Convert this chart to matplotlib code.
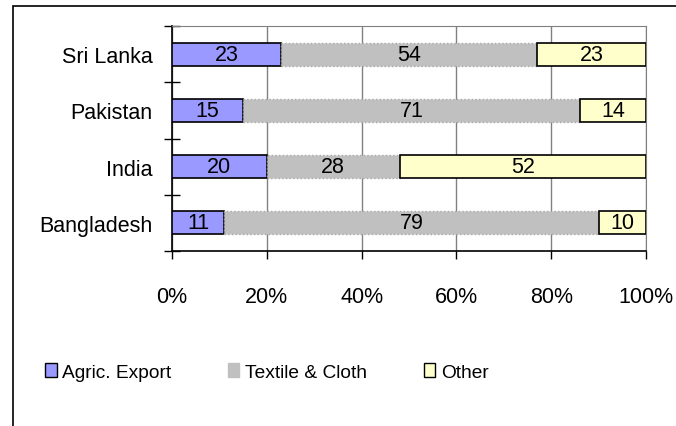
import numpy as np
import matplotlib.pyplot as plt
from matplotlib.patches import Rectangle

plt.rcParams['font.family'] = ['Liberation Sans', 'DejaVu Sans']

# data
countries = ["Bangladesh", "India", "Pakistan", "Sri Lanka"]
agric = [11, 20, 15, 23]
textile = [79, 28, 71, 54]
other = [10, 52, 14, 23]
xticks = [0, 20, 40, 60, 80, 100]
xtick_labels = ["0%", "20%", "40%", "60%", "80%", "100%"]

W, H = 676, 427
fig = plt.figure(figsize=(W / 100, H / 100), dpi=100)

# outer chart border (cropped on right/bottom)
fig.patches.append(Rectangle((13 / W, -0.1), 1.2, (H - 7) / H + 0.1,
                             transform=fig.transFigure, fill=False,
                             edgecolor='black', linewidth=1.2))

ax = fig.add_axes([172 / W, 1 - 252 / H, (646 - 172) / W, (252 - 27) / H])

y = np.arange(len(countries))
h = 0.41
ax.barh(y, agric, height=h, color='#9999FF', edgecolor='black', linewidth=1.2, zorder=3)
ax.barh(y, textile, left=agric, height=h, color='#C0C0C0', edgecolor='#A8A8A8',
        linewidth=1.0, linestyle=':', zorder=3)
left2 = np.array(agric) + np.array(textile)
ax.barh(y, other, left=left2, height=h, color='#FFFFCC', edgecolor='black', linewidth=1.2, zorder=3)

fs = 15.5
for i in range(len(countries)):
    ax.text(agric[i] / 2, y[i], str(agric[i]), ha='center', va='center', fontsize=fs, zorder=4)
    ax.text(agric[i] + textile[i] / 2, y[i], str(textile[i]), ha='center', va='center', fontsize=fs, zorder=4)
    ax.text(left2[i] + other[i] / 2, y[i], str(other[i]), ha='center', va='center', fontsize=fs, zorder=4)

ax.set_xlim(0, 100)
ax.set_ylim(-0.5, len(countries) - 0.5)
ax.set_xticks(xticks)
ax.set_xticklabels(xtick_labels, fontsize=fs)
ax.set_yticks(y)
ax.set_yticklabels(countries, fontsize=fs)
ax.set_yticks(np.arange(-0.5, len(countries), 1), minor=True)
ax.tick_params(axis='y', which='major', length=0, pad=14)
ax.tick_params(axis='y', which='minor', direction='inout', length=11.5, width=1)
ax.tick_params(axis='x', direction='out', length=5.5, width=1, pad=20)
ax.xaxis.grid(True, color='#808080', linewidth=1, zorder=0)
ax.set_axisbelow(True)

ax.spines['top'].set_color('#808080')
ax.spines['right'].set_color('#808080')
ax.spines['left'].set_linewidth(1.2)
ax.spines['bottom'].set_linewidth(1.2)

# legend
handles = [Rectangle((0, 0), 1, 1, facecolor='#9999FF', edgecolor='black', linewidth=1),
           Rectangle((0, 0), 1, 1, facecolor='#C0C0C0', edgecolor='#C0C0C0', linewidth=1),
           Rectangle((0, 0), 1, 1, facecolor='#FFFFCC', edgecolor='black', linewidth=1)]
fig.legend(handles, ["Agric. Export", "Textile & Cloth", "Other"], ncol=3,
           loc='center left', bbox_to_anchor=(45 / W, 1 - 373 / H), frameon=False,
           fontsize=13.8, handlelength=0.6, handleheight=0.7, handletextpad=0.3,
           columnspacing=2.95, borderpad=0, borderaxespad=0)

fig.savefig("out.png", dpi=100)
